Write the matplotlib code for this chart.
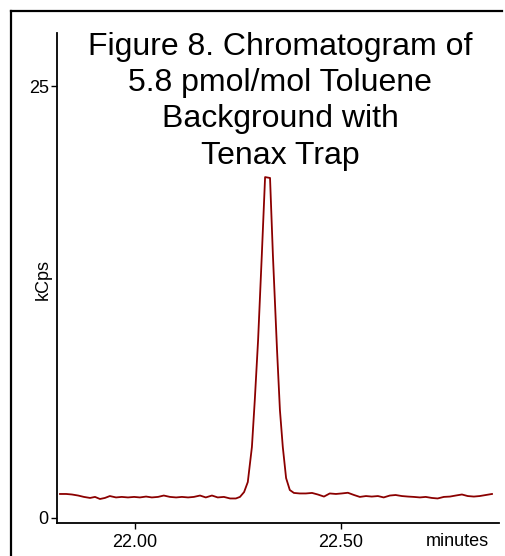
import matplotlib.pyplot as plt
from matplotlib.lines import Line2D

plt.rcParams['font.family'] = ['Liberation Sans', 'DejaVu Sans']

# retention time (minutes) and signal (kCps)
minutes = [21.818, 21.833, 21.847, 21.862, 21.876, 21.891, 21.903, 21.915, 21.927, 21.939,
           21.954, 21.968, 21.983, 21.998, 22.012, 22.027, 22.041, 22.056, 22.070, 22.085,
           22.100, 22.114, 22.129, 22.143, 22.158, 22.172, 22.187, 22.201, 22.216, 22.231,
           22.245, 22.255, 22.265, 22.274, 22.284, 22.291, 22.299, 22.308, 22.316, 22.328,
           22.335, 22.345, 22.352, 22.359, 22.367, 22.376, 22.386, 22.400, 22.415, 22.430,
           22.444, 22.459, 22.473, 22.488, 22.502, 22.517, 22.532, 22.546, 22.561, 22.575,
           22.590, 22.604, 22.619, 22.633, 22.648, 22.663, 22.677, 22.692, 22.706, 22.721,
           22.735, 22.750, 22.765, 22.779, 22.794, 22.808, 22.823, 22.837, 22.852, 22.867]
kcps = [1.39, 1.39, 1.36, 1.30, 1.22, 1.16, 1.22, 1.10, 1.16, 1.27,
        1.19, 1.22, 1.19, 1.22, 1.19, 1.24, 1.19, 1.22, 1.30, 1.22,
        1.19, 1.22, 1.19, 1.22, 1.30, 1.19, 1.30, 1.19, 1.22, 1.13,
        1.13, 1.22, 1.50, 2.08, 4.11, 6.83, 10.3, 15.2, 19.73, 19.68,
        15.2, 9.72, 6.25, 4.11, 2.31, 1.62, 1.45, 1.42, 1.42, 1.45,
        1.36, 1.24, 1.42, 1.39, 1.42, 1.46, 1.33, 1.22, 1.27, 1.24,
        1.27, 1.19, 1.30, 1.33, 1.27, 1.24, 1.22, 1.19, 1.22, 1.16,
        1.13, 1.22, 1.24, 1.30, 1.36, 1.27, 1.24, 1.27, 1.33, 1.39]

xticks = [22.0, 22.5]
xtick_labels = ['22.00', '22.50']
yticks = [0, 25]
ytick_labels = ['0', '25']
title_lines = ['Figure 8. Chromatogram of', '5.8 pmol/mol Toluene',
               'Background with', 'Tenax Trap']

W, H = 506, 556
fig = plt.figure(figsize=(W / 100, H / 100), dpi=100)
ax = fig.add_axes([57 / W, 1 - 523 / H, (499 - 57) / W, (523 - 33) / H])

ax.plot(minutes, kcps, color='#8b0000', lw=1.3)

ax.set_xlim(21.8107, 22.884)
ax.set_ylim(-0.29, 28.07)
ax.set_xticks(xticks)
ax.set_xticklabels(xtick_labels)
ax.set_yticks(yticks)
ax.set_yticklabels(ytick_labels)
ax.tick_params(labelsize=13, length=4, width=1, color='black')
ax.tick_params(axis='x', pad=4)
ax.tick_params(axis='y', pad=2)
for side in ['top', 'right']:
    ax.spines[side].set_visible(False)
for side in ['left', 'bottom']:
    ax.spines[side].set_linewidth(1.3)

fig.text(43 / W, 1 - 280 / H, 'kCps', rotation=90, ha='center', va='center', fontsize=13)
fig.text(457 / W, 1 - 541 / H, 'minutes', ha='center', va='center', fontsize=13)
fig.text(280 / W, 1 - 32 / H, '\n'.join(title_lines), ha='center', va='top',
         fontsize=23, linespacing=1.27)

# outer frame (only left and top edges show)
fig.add_artist(Line2D([11 / W, 11 / W], [0, 1 - 11 / H], color='black', lw=1.6))
fig.add_artist(Line2D([11 / W, 502 / W], [1 - 11 / H, 1 - 11 / H], color='black', lw=1.6))

fig.savefig('out.png', dpi=100)
